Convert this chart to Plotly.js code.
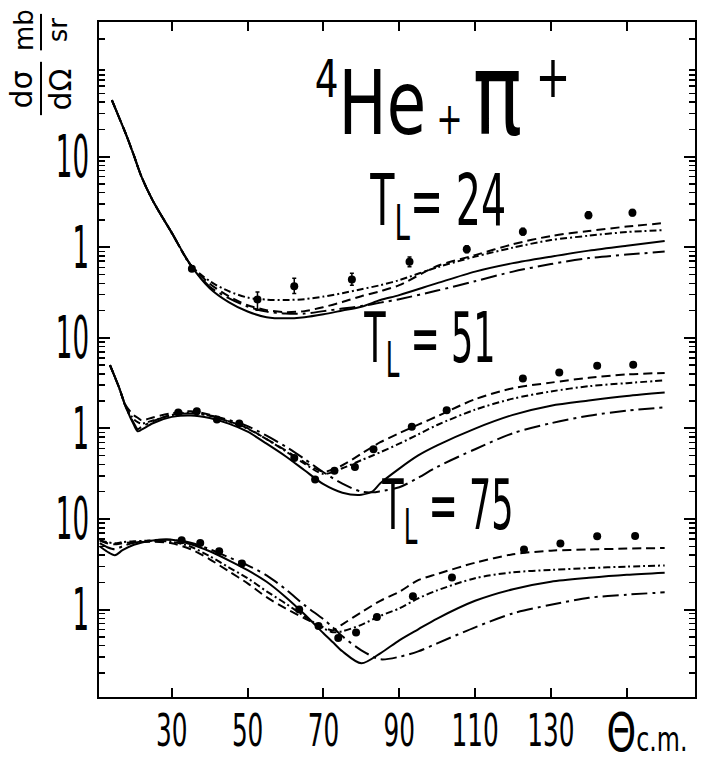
<!DOCTYPE html>
<html>
<head>
<meta charset="utf-8">
<script src="https://cdn.plot.ly/plotly-3.0.1.min.js"></script>
<style>
  html, body { margin: 0; padding: 0; background: #ffffff; }
  #chart { width: 701px; height: 765px; }
</style>
</head>
<body>
<div id="chart"></div>
<script>
// ---------- DATA ----------
// Scattering angle grids (degrees, c.m.)
const theta24 = [14.2,16,18,20,22,25,30,35,40,45,50,55,60,65,70,75,80,85,90,100,110,120,130,140,150,160];
const theta51 = [13.7,16,18,20,21,22,25,30,35,40,45,50,55,60,65,70,75,80,83,85,90,95,100,110,120,130,140,150,160];
const theta75 = [11,13,15,17,20,25,30,35,40,45,50,55,60,65,70,72.5,75,80,85,90,95,100,110,120,130,140,150,160];

// T_L = 24 MeV curves (mb/sr)
const t24Solid   = [42.1,27.6,17.3,10.3,6.01,3.26,1.44,0.634,0.353,0.248,0.195,0.169,0.164,0.169,0.182,0.200,0.220,0.261,0.296,0.401,0.538,0.667,0.787,0.917,1.04,1.17];
const t24Dashed  = [42.1,27.6,17.3,10.3,6.01,3.26,1.44,0.634,0.396,0.288,0.229,0.202,0.192,0.197,0.218,0.248,0.288,0.327,0.381,0.620,0.818,1.08,1.33,1.51,1.69,1.85];
const t24DashDot = [42.1,27.6,17.3,10.3,6.01,3.26,1.44,0.634,0.422,0.327,0.278,0.264,0.261,0.267,0.285,0.311,0.344,0.381,0.433,0.600,0.787,0.99,1.20,1.34,1.47,1.545];
const t24LongDD  = [42.1,27.6,17.3,10.3,6.01,3.26,1.44,0.634,0.367,0.274,0.221,0.1945,0.185,0.185,0.197,0.210,0.224,0.2445,0.267,0.332,0.422,0.538,0.651,0.758,0.829,0.894];

// T_L = 51 MeV curves
const t51Solid   = [4.99,2.89,1.67,1.093,0.931,0.967,1.14,1.34,1.39,1.30,1.13,0.920,0.678,0.493,0.345,0.242,0.195,0.185,0.2025,0.248,0.360,0.503,0.649,0.995,1.41,1.78,2.03,2.28,2.49];
const t51Dashed  = [4.99,2.89,1.75,1.40,1.31,1.23,1.32,1.47,1.55,1.42,1.20,1.005,0.760,0.574,0.423,0.333,0.392,0.526,0.628,0.704,0.885,1.10,1.36,2.10,2.78,3.20,3.62,3.94,4.09];
const t51DashDot = [4.99,2.89,1.67,1.26,1.17,1.13,1.22,1.40,1.50,1.38,1.19,0.992,0.760,0.560,0.408,0.314,0.363,0.446,0.502,0.546,0.678,0.859,1.09,1.61,2.13,2.56,2.92,3.16,3.39];
const t51LongDD  = [4.99,2.89,1.67,1.14,0.98,1.04,1.20,1.41,1.46,1.39,1.24,1.06,0.831,0.631,0.459,0.328,0.245,0.200,0.197,0.2025,0.224,0.285,0.376,0.589,0.885,1.14,1.38,1.57,1.71];

// T_L = 75 MeV curves
const t75Solid   = [5.00,4.35,3.98,4.52,5.20,5.80,5.89,5.26,4.40,3.50,2.72,2.03,1.38,0.887,0.547,0.435,0.346,0.255,0.329,0.458,0.606,0.796,1.25,1.68,2.03,2.24,2.42,2.55];
const t75Dashed  = [5.83,5.40,5.26,5.40,5.54,5.61,5.40,4.63,3.59,2.65,1.95,1.37,1.03,0.801,0.637,0.591,0.688,0.934,1.25,1.57,2.11,2.47,3.29,4.08,4.47,4.61,4.71,4.78];
const t75DashDot = [5.83,5.54,5.40,5.54,5.68,5.75,5.61,4.94,3.88,2.93,2.22,1.59,1.17,0.843,0.622,0.562,0.576,0.679,0.854,1.03,1.33,1.63,2.22,2.58,2.74,2.87,2.98,3.07];
const t75LongDD  = [5.40,4.88,4.63,5.00,5.47,5.83,5.90,5.47,4.63,3.78,3.08,2.39,1.68,1.12,0.781,0.637,0.507,0.355,0.283,0.301,0.346,0.424,0.637,0.910,1.13,1.35,1.46,1.55];

// Measured points
const exp24Theta = [35.3,52.6,62.3,77.5,92.7,107.8,122.6,139.9,151.5];
const exp24Val   = [0.58,0.265,0.37,0.44,0.69,0.95,1.48,2.26,2.40];
const exp24ErrUp = [0,0.056,0.085,0.077,0.09,0.09,0.14,0.2,0.2];
const exp24ErrDn = [0,0.063,0.062,0.06,0.08,0.08,0.12,0.18,0.18];

const exp51Theta = [31.7,36.6,41.9,47.8,62.3,67.8,72.9,78.3,83.2,93.3,102.5,122.6,132.2,142.2,151.7];
const exp51Val   = [1.50,1.55,1.25,1.13,0.47,0.273,0.34,0.376,0.589,1.04,1.59,3.56,4.14,4.90,5.03];

const exp75Theta = [32.6,37.5,42.5,48.5,63.6,68.7,73.9,78.6,84.1,93.6,103.9,122.9,132.5,142.2,152.2];
const exp75Val   = [5.83,5.44,4.40,3.22,1.00,0.659,0.486,0.557,0.828,1.40,2.26,4.60,5.35,6.45,6.50];

// Axis ticks
const xTickVals = [30,50,70,90,110,130,150];
const xTickText = ["30","50","70","90","110","130"," "];
const yTickVals = [1,10,100,1000,10000,100000];
const yTickText = ["1","10","1","10","1","10"];

// ---------- STYLES ----------
const FONT = '"DejaVu Sans",sans-serif';
const styles = {
  solid:   {color:'#000', width:2, dash:'solid'},
  dashed:  {color:'#000', width:2, dash:'9px,5px'},
  dashdot: {color:'#000', width:2, dash:'7px,3px,2px,3px'},
  longdd:  {color:'#000', width:2, dash:'16px,5px,3px,5px'}
};

function curve(x, y, st, axis) {
  return {x:x, y:y, type:'scatter', mode:'lines', yaxis:axis,
          line:Object.assign({shape:'spline', smoothing:0.8}, st),
          hoverinfo:'skip', showlegend:false};
}
function points(x, y, axis, errUp, errDn) {
  const t = {x:x, y:y, type:'scatter', mode:'markers', yaxis:axis,
             marker:{color:'#000', size:8, symbol:'circle'}, showlegend:false};
  if (errUp) t.error_y = {type:'data', symmetric:false, array:errUp, arrayminus:errDn,
                          color:'#000', thickness:1.5, width:2};
  return t;
}

const traces = [
  curve(theta24, t24Solid, styles.solid, 'y3'),
  curve(theta24, t24Dashed, styles.dashed, 'y3'),
  curve(theta24, t24DashDot, styles.dashdot, 'y3'),
  curve(theta24, t24LongDD, styles.longdd, 'y3'),
  points(exp24Theta, exp24Val, 'y3', exp24ErrUp, exp24ErrDn),

  curve(theta51, t51Solid, styles.solid, 'y2'),
  curve(theta51, t51Dashed, styles.dashed, 'y2'),
  curve(theta51, t51DashDot, styles.dashdot, 'y2'),
  curve(theta51, t51LongDD, styles.longdd, 'y2'),
  points(exp51Theta, exp51Val, 'y2'),

  curve(theta75, t75Solid, styles.solid, 'y'),
  curve(theta75, t75Dashed, styles.dashed, 'y'),
  curve(theta75, t75DashDot, styles.dashdot, 'y'),
  curve(theta75, t75LongDD, styles.longdd, 'y'),
  points(exp75Theta, exp75Val, 'y')
];

// minor log ticks (2..9 per decade)
const minorVals = [];
for (let e = -1; e <= 6; e++) for (let m = 2; m <= 9; m++) minorVals.push(m * Math.pow(10, e));

const LOW = -0.965, HIGH = 6.486;
const hiddenY = (shift) => ({type:'log', overlaying:'y', visible:false,
                             range:[LOW - shift, HIGH - shift], fixedrange:true});

const layout = {
  width:701, height:765,
  margin:{l:99, r:6, t:22, b:68},
  paper_bgcolor:'#fff', plot_bgcolor:'#fff',
  font:{family:FONT, color:'#000'},
  showlegend:false,
  xaxis:{
    range:[10.8,168], tickmode:'array', tickvals:xTickVals, ticktext:xTickText,
    tickangle:0, automargin:false,
    ticks:'inside', ticklen:9, tickwidth:2, tickcolor:'#000',
    showline:true, linewidth:2, linecolor:'#000', mirror:'ticks',
    showgrid:false, zeroline:false,
    tickfont:{family:FONT, size:45, color:'#000'}
  },
  yaxis:{
    type:'log', range:[LOW, HIGH], tickmode:'array', tickvals:yTickVals, ticktext:yTickText,
    tickangle:0, automargin:false,
    ticks:'inside', ticklen:11, tickwidth:2, tickcolor:'#000',
    showline:true, linewidth:2, linecolor:'#000', mirror:'ticks',
    showgrid:false, zeroline:false,
    tickfont:{family:FONT, size:58, color:'#000'},
    minor:{tickmode:'array', tickvals:minorVals, ticks:'inside', ticklen:6, tickwidth:1.5, tickcolor:'#000', showgrid:false}
  },
  yaxis2: hiddenY(2),
  yaxis3: hiddenY(4),
  annotations:[
    {xref:'paper', yref:'paper', x:0.576, y:0.892, xanchor:'center', yanchor:'middle', showarrow:false,
     text:"<sup><span style='font-size:52px'>4</span></sup>He<span style='font-size:44px'> + </span><span style='font-size:114px'>π</span><sup><span style='font-size:58px'> +</span></sup>",
     font:{family:FONT, size:89}, name:'sq0.72'},
    {xref:'paper', yref:'paper', x:0.568, y:0.729, xanchor:'center', yanchor:'middle', showarrow:false,
     text:"T<sub>L</sub>= 24", font:{family:FONT, size:72}, name:'sq0.55'},
    {xref:'paper', yref:'paper', x:0.555, y:0.524, xanchor:'center', yanchor:'middle', showarrow:false,
     text:"T<sub>L</sub> = 51", font:{family:FONT, size:70}, name:'sq0.5'},
    {xref:'paper', yref:'paper', x:0.584, y:0.277, xanchor:'center', yanchor:'middle', showarrow:false,
     text:"T<sub>L</sub> = 75", font:{family:FONT, size:70}, name:'sq0.5'},
    {xref:'paper', yref:'paper', x:0.92, y:-0.052, xanchor:'center', yanchor:'middle', showarrow:false,
     text:"Θ<span style='font-size:34px'>c.m.</span>", font:{family:FONT, size:54}, name:'sq0.7'},
    {xref:'paper', yref:'paper', x:-0.0973, y:0.90, xanchor:'center', yanchor:'middle', showarrow:false, textangle:-90,
     text:"dσ<br>dΩ", font:{family:FONT, size:30}},
    {xref:'paper', yref:'paper', x:-0.0973, y:0.988, xanchor:'center', yanchor:'middle', showarrow:false, textangle:-90,
     text:"mb<br>sr", font:{family:FONT, size:26}}
  ],
  shapes:[
    {type:'line', xref:'paper', yref:'paper', x0:-0.0973, x1:-0.0973, y0:0.862, y1:0.941, line:{color:'#000', width:2}},
    {type:'line', xref:'paper', yref:'paper', x0:-0.0973, x1:-0.0973, y0:0.958, y1:1.012, line:{color:'#000', width:2}}
  ]
};

// Narrow, tall lettering like the original: squeeze real text elements horizontally.
function squeeze(el, sx, opts) {
  opts = opts || {};
  const host = document.getElementById('chart').getBoundingClientRect();
  const b = el.getBBox();
  const r = el.getBoundingClientRect();
  let ax = b.x + b.width / 2;
  const ay = b.y + b.height / 2;
  let dx = 0, dy = 0;
  if (opts.right !== undefined) {
    ax = b.x + b.width;
    dx = opts.right - (r.right - host.left);
  }
  if (opts.cy !== undefined) dy = opts.cy - (r.top + r.height / 2 - host.top);
  const prev = el.getAttribute('transform') || '';
  el.setAttribute('transform', prev + ' translate(' + dx + ',' + dy + ') translate(' + ax + ',' + ay +
                  ') scale(' + sx + ',1) translate(' + (-ax) + ',' + (-ay) + ')');
}

Plotly.newPlot('chart', traces, layout, {staticPlot:true, displayModeBar:false}).then(function () {
  const root = document.getElementById('chart');
  root.querySelectorAll('.xtick text').forEach(function (t) { squeeze(t, 0.55, {cy:731}); });
  root.querySelectorAll('.ytick text').forEach(function (t) { squeeze(t, 0.45, {right:89}); });
  const ann = root.querySelectorAll('.annotation');
  layout.annotations.forEach(function (a, i) {
    if (a.name && a.name.indexOf('sq') === 0 && ann[i]) {
      const t = ann[i].querySelector('text');
      if (t) squeeze(t, parseFloat(a.name.slice(2)));
    }
  });
});
</script>
</body>
</html>
